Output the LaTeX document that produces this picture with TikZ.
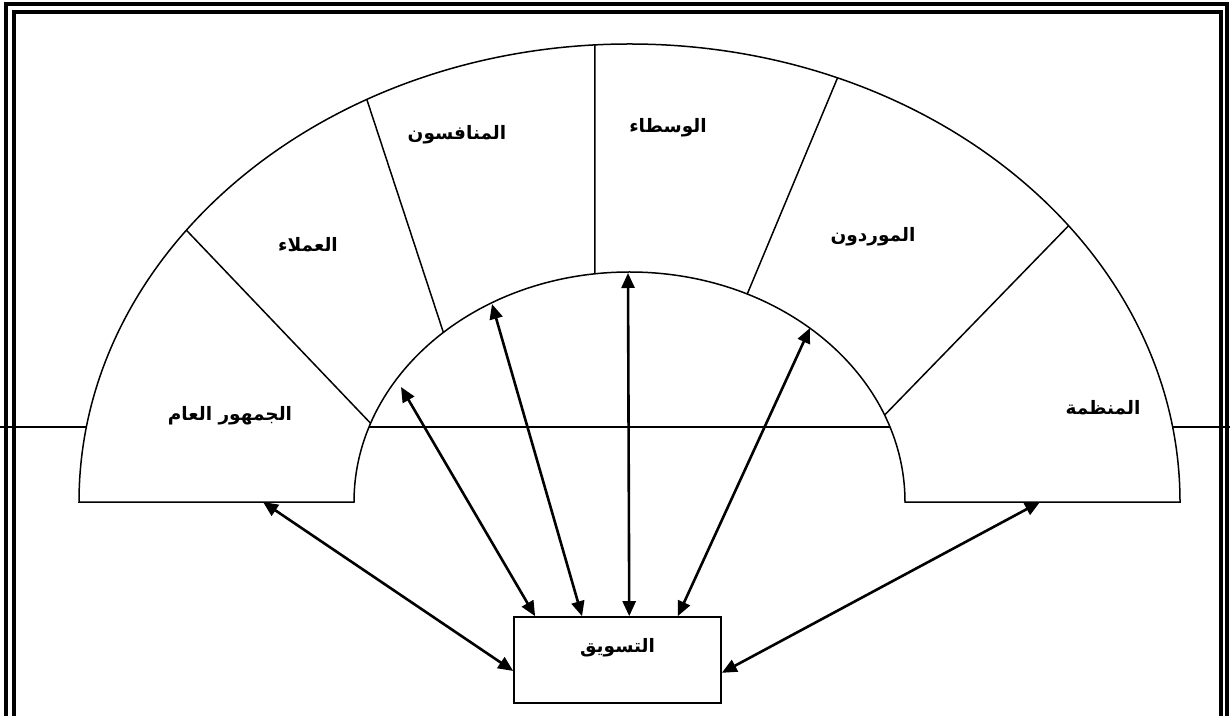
\documentclass[tikz,border=0pt]{standalone}
\usepackage{fontspec}
\newfontfamily\arabicfont[Script=Arabic]{DejaVu Sans}
\TeXXeTstate=1
\usetikzlibrary{arrows.meta,calc}
\newcommand{\rtltext}[1]{\beginR#1\endR}

\begin{document}
\begin{tikzpicture}[x=1pt, y=1pt,
    every node/.style={font=\arabicfont\bfseries\fontsize{18.5}{22}\selectfont},
    frameline/.style={line width=4pt},
    fanline/.style={line width=1.5pt},
    biarrow/.style={line width=2.6pt, {Triangle[length=15pt,width=13pt]}-{Triangle[length=15pt,width=13pt]}},
    taswiqbox/.style={draw, line width=1.6pt, minimum width=207pt, minimum height=86pt, text height=10pt, text depth=26pt}]
    \useasboundingbox (0,0) rectangle (1230,715);
    \draw[frameline] (6,-10) -- (6,711) -- (1226.5,711) -- (1226.5,-10);
    \draw[frameline] (14,-10) -- (14,702.5) -- (1220.5,702.5) -- (1220.5,-10);
    \draw[fanline] (0,288) -- (1230,288);
    \coordinate (O) at (629.5,213);
    \draw[fanline, fill=white] (79,213) arc[start angle=180, end angle=0, x radius=550.5, y radius=458]
        -- (905,213) arc[start angle=0, end angle=180, x radius=275.5, y radius=230] -- cycle;
    \coordinate (d1i) at ($(O)+(160:275.5 and 230)$);
    \coordinate (d1o) at ($(O)+(143.6:550.5 and 458)$);
    \coordinate (d2i) at ($(O)+(132.5:275.5 and 230)$);
    \coordinate (d2o) at ($(O)+(118.5:550.5 and 458)$);
    \coordinate (d3i) at ($(O)+(97.2:275.5 and 230)$);
    \coordinate (d3o) at ($(O)+(93.6:550.5 and 458)$);
    \coordinate (d4i) at ($(O)+(64.7:275.5 and 230)$);
    \coordinate (d4o) at ($(O)+(67.8:550.5 and 458)$);
    \coordinate (d5i) at ($(O)+(22.2:275.5 and 230)$);
    \coordinate (d5o) at ($(O)+(37.1:550.5 and 458)$);
    \draw[fanline] (d1i) -- (d1o);
    \draw[fanline] (d2i) -- (d2o);
    \draw[fanline] (d3i) -- (d3o);
    \draw[fanline] (d4i) -- (d4o);
    \draw[fanline] (d5i) -- (d5o);
    \node (gumhur) at (230,299) {\rtltext{الجمهور العام}};
    \node (umala) at (308,470) {\rtltext{العملاء}};
    \node (munafisun) at (457,580) {\rtltext{المنافسون}};
    \node (wusata) at (668,587) {\rtltext{الوسطاء}};
    \node (muwarridun) at (873,478) {\rtltext{الموردون}};
    \node (munazzama) at (1103,307) {\rtltext{المنظمة}};
    \node[taswiqbox] (taswiq) at (617.5,55) {\rtltext{التسويق}};
    \coordinate (a1) at (401,328);
    \coordinate (a2) at (492,411);
    \coordinate (a3) at (628,442);
    \coordinate (a4) at (810,387);
    \coordinate (aleft) at (263,213);
    \coordinate (aright) at (1040,213);
    \draw[biarrow] (taswiq.152) -- (a1);
    \draw[biarrow] (taswiq.129.8) -- (a2);
    \draw[biarrow] (taswiq.75.9) -- (a3);
    \draw[biarrow] (taswiq.36) -- (a4);
    \draw[biarrow] (taswiq.186.4) -- (aleft);
    \draw[biarrow] (taswiq.353.6) -- (aright);
\end{tikzpicture}
\end{document}
